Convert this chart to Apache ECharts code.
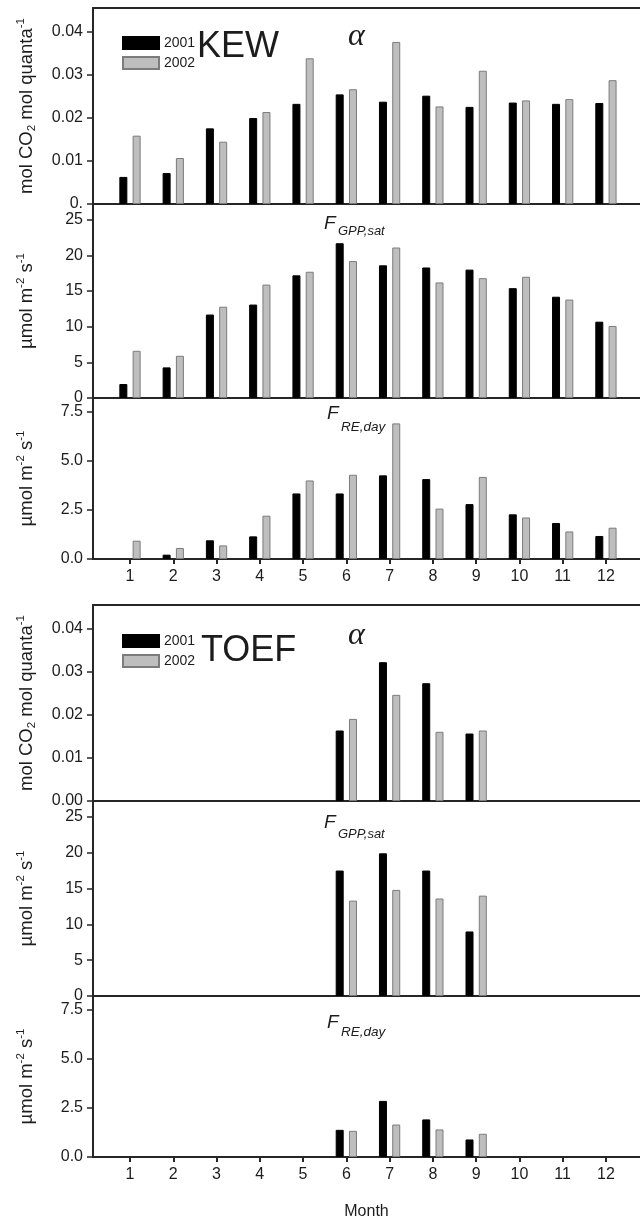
<!DOCTYPE html>
<html>
<head>
<meta charset="utf-8">
<title>KEW / TOEF monthly light-response parameters</title>
<script src="https://cdn.jsdelivr.net/npm/echarts@6/dist/echarts.min.js"></script>
<style>
  html, body { margin: 0; padding: 0; background: #fff; }
  #chart { width: 640px; height: 1222px; }
</style>
</head>
<body>
<div id="chart"></div>
<script>
// Months on the shared x axis
const months = [1, 2, 3, 4, 5, 6, 7, 8, 9, 10, 11, 12];
const toefMonths = [6, 7, 8, 9];

// KEW: quantum efficiency alpha (mol CO2 mol quanta-1)
const kewAlpha2001 = [0.0063, 0.0072, 0.0176, 0.0200, 0.0233, 0.0255, 0.0238, 0.0252, 0.0226, 0.0236, 0.0233, 0.0235];
const kewAlpha2002 = [0.0159, 0.0107, 0.0145, 0.0214, 0.0339, 0.0267, 0.0377, 0.0227, 0.0310, 0.0241, 0.0244, 0.0288];
// KEW: F_GPP,sat (umol m-2 s-1)
const kewGpp2001 = [1.96, 4.29, 11.7, 13.1, 17.2, 21.7, 18.6, 18.3, 18.0, 15.4, 14.2, 10.7];
const kewGpp2002 = [6.62, 5.92, 12.8, 15.9, 17.7, 19.2, 21.1, 16.2, 16.8, 17.0, 13.8, 10.1];
// KEW: F_RE,day (umol m-2 s-1)
const kewRe2001 = [null, 0.22, 0.95, 1.15, 3.33, 3.33, 4.25, 4.06, 2.79, 2.27, 1.83, 1.17];
const kewRe2002 = [0.93, 0.56, 0.69, 2.20, 3.99, 4.28, 6.89, 2.56, 4.17, 2.11, 1.40, 1.59];

// TOEF (June-September only)
const toefAlpha2001 = [0.0164, 0.0323, 0.0274, 0.0157];
const toefAlpha2002 = [0.0191, 0.0247, 0.0161, 0.0164];
const toefGpp2001 = [17.5, 19.9, 17.5, 9.0];
const toefGpp2002 = [13.3, 14.8, 13.6, 14.0];
const toefRe2001 = [1.38, 2.85, 1.91, 0.89];
const toefRe2002 = [1.33, 1.65, 1.40, 1.18];

// Tick values
const alphaTicks = [0, 0.01, 0.02, 0.03, 0.04];
const gppTicks = [0, 5, 10, 15, 20, 25];
const reTicks = [0, 2.5, 5, 7.5];
const years = ['2001', '2002'];

const FONT = "'Liberation Sans', Arial, Helvetica, sans-serif";
const INK = '#1c1c1c';
const AXIS = '#262626';

const pair = (xs, ys) => xs.map((x, i) => [x, ys[i]]);

// Panel frames: [top, height]
const panels = [
  { top: 8,   height: 196, kind: 'alpha', site: 'KEW' },
  { top: 204, height: 194, kind: 'gpp',   site: 'KEW' },
  { top: 398, height: 161, kind: 're',    site: 'KEW' },
  { top: 605, height: 196, kind: 'alpha', site: 'TOEF' },
  { top: 801, height: 195, kind: 'gpp',   site: 'TOEF' },
  { top: 996, height: 161, kind: 're',    site: 'TOEF' }
];

const axisSpec = {
  alpha: { max: 0.0456, ticks: alphaTicks, fmt: v => v.toFixed(2),
           name: '{t|mol CO}{sub|2}{t| mol quanta}{sup|-1}' },
  gpp:   { max: 27.2, ticks: gppTicks, fmt: v => String(v),
           name: '{t|\u00b5mol m}{sup|-2}{t| s}{sup|-1}' },
  re:    { max: 8.18, ticks: reTicks, fmt: v => v.toFixed(1),
           name: '{t|\u00b5mol m}{sup|-2}{t| s}{sup|-1}' }
};

const seriesData = {
  KEW: {
    alpha: [pair(months, kewAlpha2001), pair(months, kewAlpha2002)],
    gpp:   [pair(months, kewGpp2001),   pair(months, kewGpp2002)],
    re:    [pair(months, kewRe2001),    pair(months, kewRe2002)]
  },
  TOEF: {
    alpha: [pair(toefMonths, toefAlpha2001), pair(toefMonths, toefAlpha2002)],
    gpp:   [pair(toefMonths, toefGpp2001),   pair(toefMonths, toefGpp2002)],
    re:    [pair(toefMonths, toefRe2001),    pair(toefMonths, toefRe2002)]
  }
};

const nameRich = {
  t:   { fontSize: 18.5, lineHeight: 23, fontFamily: FONT, color: INK },
  sup: { fontSize: 11.5, lineHeight: 12, fontFamily: FONT, color: INK, verticalAlign: 'top' },
  sub: { fontSize: 11.5, lineHeight: 12, fontFamily: FONT, color: INK, verticalAlign: 'bottom' }
};

const grid = [], xAxis = [], yAxis = [], series = [];

panels.forEach((p, i) => {
  const spec = axisSpec[p.kind];
  const isBottom = p.kind === 're';
  grid.push({ left: 93, width: 547, top: p.top, height: p.height, containLabel: false });

  xAxis.push({
    type: 'value', gridIndex: i, min: 0.145, max: 12.787,
    splitLine: { show: false },
    axisLine: { show: true, onZero: true, lineStyle: { color: AXIS, width: 2 } },
    axisTick: { show: isBottom, customValues: months, length: 5, inside: false,
                lineStyle: { color: AXIS, width: 2 } },
    axisLabel: { show: isBottom, customValues: months, margin: 10,
                 fontSize: 16, fontFamily: FONT, color: INK },
    name: (isBottom && p.site === 'TOEF') ? 'Month' : '',
    nameLocation: 'middle', nameGap: 47,
    nameTextStyle: { fontSize: 16, fontFamily: FONT, color: INK }
  });

  yAxis.push({
    type: 'value', gridIndex: i, min: 0, max: spec.max,
    splitLine: { show: false },
    axisLine: { show: true, lineStyle: { color: AXIS, width: 2 } },
    axisTick: { show: true, customValues: spec.ticks, length: 6, inside: false,
                lineStyle: { color: AXIS, width: 1.5 } },
    axisLabel: {
      customValues: spec.ticks, margin: 10, fontSize: 16, fontFamily: FONT, color: INK,
      // the KEW alpha zero label is partly covered by the panel below it
      formatter: v => (p.site === 'KEW' && p.kind === 'alpha' && v === 0) ? '0.' : spec.fmt(v)
    },
    name: spec.name, nameLocation: 'middle', nameRotate: 90, nameGap: 55,
    nameTextStyle: { rich: nameRich }
  });

  const [d2001, d2002] = seriesData[p.site][p.kind];
  series.push({
    name: years[0], type: 'bar', xAxisIndex: i, yAxisIndex: i, data: d2001,
    barWidth: 8, barGap: '66%',
    itemStyle: { color: '#000', borderColor: '#000', borderWidth: 1 },
    emphasis: { disabled: true }
  });
  series.push({
    name: years[1], type: 'bar', xAxisIndex: i, yAxisIndex: i, data: d2002,
    barWidth: 8, barGap: '66%',
    itemStyle: { color: '#bebebe', borderColor: '#7c7c7c', borderWidth: 1 },
    emphasis: { disabled: true }
  });
});

// top frame line over each alpha panel
[0, 3].forEach(gi => {
  xAxis.push({
    type: 'value', gridIndex: gi, position: 'top', min: 0.145, max: 12.787,
    splitLine: { show: false }, axisTick: { show: false }, axisLabel: { show: false },
    axisLine: { show: true, onZero: false, lineStyle: { color: AXIS, width: 2 } }
  });
});

const legendBase = {
  orient: 'vertical', left: 117, itemWidth: 36, itemHeight: 12, itemGap: 6,
  icon: 'rect', selectedMode: false, data: years,
  textStyle: { fontSize: 14, lineHeight: 14, fontFamily: FONT, color: INK }
};

const label = (text, x, y, font) => ({
  type: 'text', x: x, y: y, silent: true,
  style: { text: text, font: font, fill: INK, align: 'left', verticalAlign: 'middle' }
});

const graphic = [
  label('KEW', 197, 47, `36px ${FONT}`),
  label('TOEF', 201, 651, `36px ${FONT}`),
  label('\u03b1', 348, 37, `italic 32px 'Liberation Serif', 'DejaVu Serif', serif`),
  label('\u03b1', 348, 636, `italic 32px 'Liberation Serif', 'DejaVu Serif', serif`),
  label('F', 324, 224, `italic 19px ${FONT}`),
  label('GPP,sat', 338, 231, `italic 13px ${FONT}`),
  label('F', 324, 823, `italic 19px ${FONT}`),
  label('GPP,sat', 338, 834, `italic 13px ${FONT}`),
  label('F', 327, 414, `italic 19px ${FONT}`),
  label('RE,day', 341, 427, `italic 13.5px ${FONT}`),
  label('F', 327, 1023, `italic 19px ${FONT}`),
  label('RE,day', 341, 1032, `italic 13.5px ${FONT}`)
];

const chart = echarts.init(document.getElementById('chart'), null, { renderer: 'canvas' });
chart.setOption({
  animation: false,
  backgroundColor: '#fff',
  grid: grid,
  xAxis: xAxis,
  yAxis: yAxis,
  legend: [
    Object.assign({}, legendBase, { top: 31 }),
    Object.assign({}, legendBase, { top: 629 })
  ],
  graphic: graphic,
  series: series
});
</script>
</body>
</html>
